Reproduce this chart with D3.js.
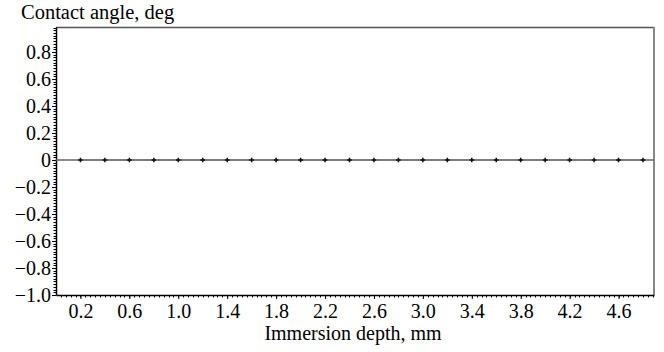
<!DOCTYPE html>
<html>
<head>
<meta charset="utf-8">
<script src="https://cdn.jsdelivr.net/npm/d3@7"></script>
<style>
  body { margin: 0; background: #fff; }
  svg text { font-family: 'Liberation Serif', 'Times New Roman', serif !important; }
</style>
</head>
<body>
<div id="chart"></div>
<script>
const depth = [0.2, 0.4, 0.6, 0.8, 1.0, 1.2, 1.4, 1.6, 1.8, 2.0, 2.2, 2.4,
  2.6, 2.8, 3.0, 3.2, 3.4, 3.6, 3.8, 4.0, 4.2, 4.4, 4.6, 4.8];
const angle = [0, 0, 0, 0, 0, 0, 0, 0, 0, 0, 0, 0,
  0, 0, 0, 0, 0, 0, 0, 0, 0, 0, 0, 0];
const xTicks = [0.2, 0.6, 1.0, 1.4, 1.8, 2.2, 2.6, 3.0, 3.4, 3.8, 4.2, 4.6];
const yTicks = [-1.0, -0.8, -0.6, -0.4, -0.2, 0, 0.2, 0.4, 0.6, 0.8];

const width = 664, height = 352;
const mLeft = 56, mRight = 654, mTop = 27, mBottom = 295;

const svg = d3.select("#chart").append("svg")
  .attr("width", width)
  .attr("height", height);

const x = d3.scaleLinear().domain([0, 4.89]).range([mLeft, mRight]);
const y = d3.scaleLinear().domain([-1, 0.985]).range([mBottom, mTop]);

const fmt = d => d === 0 ? "0" : d3.format(".1f")(d).replace("-", "\u2212");

// frame top / right
svg.append("line")
  .attr("x1", mLeft).attr("x2", mRight).attr("y1", mTop + 0.5).attr("y2", mTop + 0.5)
  .attr("stroke", "#555").attr("stroke-width", 1.5);
svg.append("line")
  .attr("x1", mRight).attr("x2", mRight).attr("y1", mTop).attr("y2", mBottom)
  .attr("stroke", "#888").attr("stroke-width", 2);

// minor ticks
const xMinor = d3.range(0.04, 4.89, 0.04);
svg.append("g").selectAll("line").data(xMinor).join("line")
  .attr("x1", d => Math.round(x(d)) + 0.5).attr("x2", d => Math.round(x(d)) + 0.5)
  .attr("y1", mBottom).attr("y2", mBottom + 2.5)
  .attr("stroke", "#000").attr("stroke-width", 1);

const yMinor = d3.range(-1, 0.985, 0.02);
svg.append("g").selectAll("line").data(yMinor).join("line")
  .attr("x1", mLeft - 2.5).attr("x2", mLeft)
  .attr("y1", d => Math.round(y(d)) + 0.5).attr("y2", d => Math.round(y(d)) + 0.5)
  .attr("stroke", "#000").attr("stroke-width", 1);

// axes
const xAxis = svg.append("g")
  .attr("transform", `translate(0,${mBottom})`)
  .call(d3.axisBottom(x).tickValues(xTicks).tickFormat(d3.format(".1f"))
    .tickSize(4).tickSizeOuter(0).tickPadding(5));
const yAxis = svg.append("g")
  .attr("transform", `translate(${mLeft},0)`)
  .call(d3.axisLeft(y).tickValues(yTicks).tickFormat(fmt)
    .tickSize(4).tickSizeOuter(0).tickPadding(1));

[xAxis, yAxis].forEach(a => {
  a.attr("font-size", 20);
  a.select(".domain").attr("stroke", "#000").attr("stroke-width", 1.5);
  a.selectAll("text").attr("fill", "#000");
  a.selectAll(".tick line").attr("stroke", "#000");
});

// zero line
svg.append("line")
  .attr("x1", mLeft).attr("x2", mRight).attr("y1", y(0)).attr("y2", y(0))
  .attr("stroke", "#666").attr("stroke-width", 1.5);

// data line + markers
svg.append("path")
  .datum(depth.map((d, i) => [d, angle[i]]))
  .attr("fill", "none")
  .attr("stroke", "#777")
  .attr("stroke-width", 1.5)
  .attr("d", d3.line().x(d => x(d[0])).y(d => y(d[1])));

svg.append("g").selectAll("path").data(depth).join("path")
  .attr("transform", (d, i) => `translate(${x(d)},${y(angle[i])})`)
  .attr("d", d3.symbol(d3.symbolCross, 12))
  .attr("fill", "#111");

// titles
svg.append("text")
  .attr("x", 21).attr("y", 19)
  .attr("font-size", 20.5)
  .text("Contact angle, deg");
svg.append("text")
  .attr("x", 353).attr("y", 340)
  .attr("text-anchor", "middle")
  .attr("font-size", 20)
  .text("Immersion depth, mm");
</script>
</body>
</html>
